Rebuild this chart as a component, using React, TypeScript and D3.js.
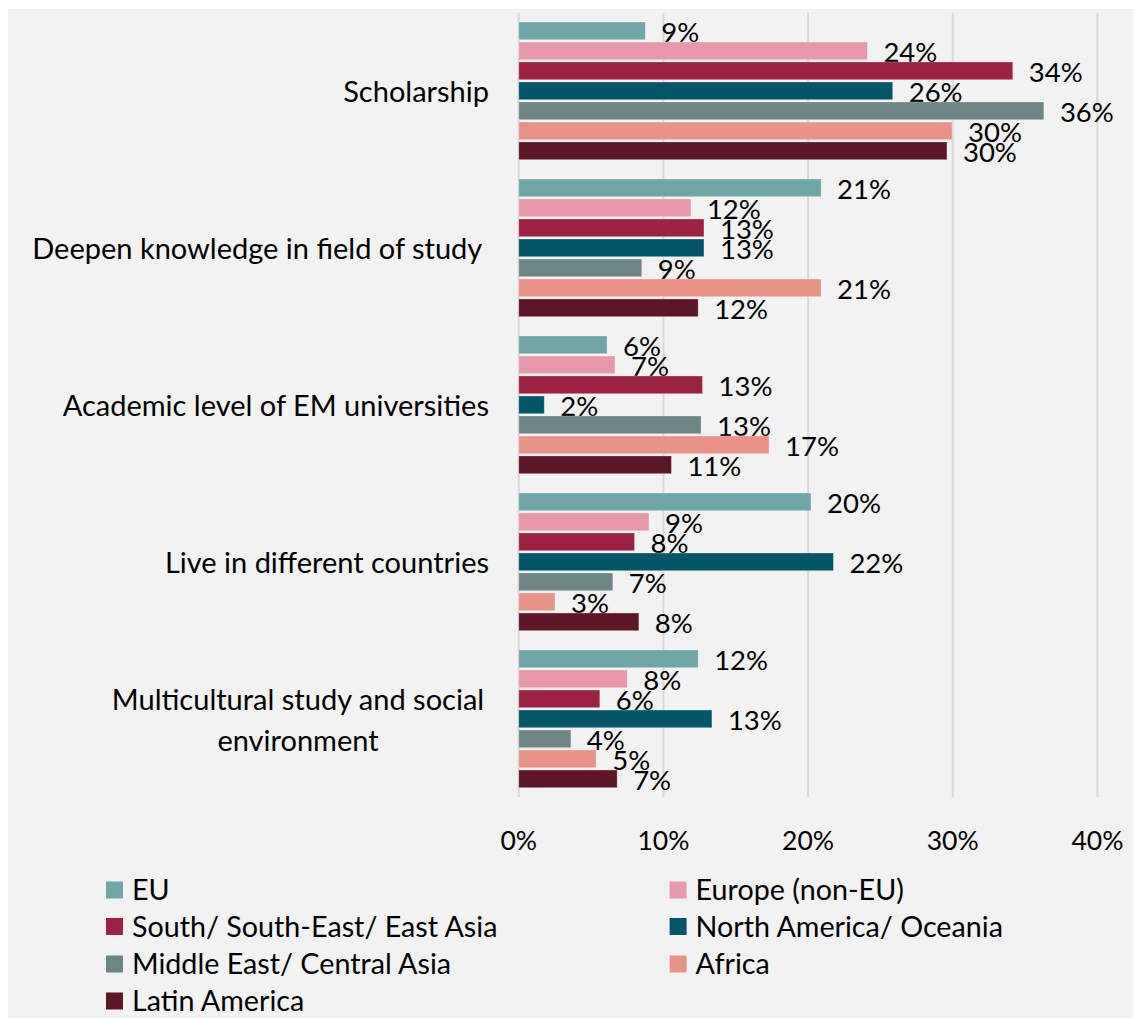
import React, { useEffect } from "react";
import * as d3 from "d3";

const categories = [
  "Scholarship",
  "Deepen knowledge in field of study ",
  "Academic level of EM universities",
  "Live in different countries",
  "Multicultural study and social environment",
];
const categoryLines = [
  ["Scholarship"],
  ["Deepen knowledge in field of study "],
  ["Academic level of EM universities"],
  ["Live in different countries"],
  ["Multicultural study and social", "environment"],
];

const series = [
  "EU",
  "Europe (non-EU)",
  "South/ South-East/ East Asia",
  "North America/ Oceania",
  "Middle East/ Central Asia",
  "Africa",
  "Latin America",
];
const colors = ["#6fa6a8", "#e898ab", "#9c2143", "#035669", "#6d8584", "#e99388", "#5f1628"];

// values per series, one per category (fractions)
const euValues = [0.0875, 0.209, 0.061, 0.202, 0.124];
const europeNonEuValues = [0.241, 0.119, 0.0665, 0.09, 0.075];
const southAsiaValues = [0.3415, 0.128, 0.127, 0.08, 0.056];
const northAmericaValues = [0.2585, 0.128, 0.0176, 0.2175, 0.1335];
const middleEastValues = [0.363, 0.085, 0.126, 0.065, 0.036];
const africaValues = [0.2995, 0.209, 0.173, 0.025, 0.0535];
const latinAmericaValues = [0.296, 0.124, 0.1055, 0.083, 0.068];
const valueLabels = [
  ["9%", "21%", "6%", "20%", "12%"],
  ["24%", "12%", "7%", "9%", "8%"],
  ["34%", "13%", "13%", "8%", "6%"],
  ["26%", "13%", "2%", "22%", "13%"],
  ["36%", "9%", "13%", "7%", "4%"],
  ["30%", "21%", "17%", "3%", "5%"],
  ["30%", "12%", "11%", "8%", "7%"],
];
const allValues = [
  euValues,
  europeNonEuValues,
  southAsiaValues,
  northAmericaValues,
  middleEastValues,
  africaValues,
  latinAmericaValues,
];
const ticks = [0, 0.1, 0.2, 0.3, 0.4];

const FONT = "Lato, 'Open Sans', sans-serif";

export default function App() {
  useEffect(() => {
    document.body.style.margin = "0";
  }, []);

  const W = 1133;
  const H = 1019;
  const x = d3.scaleLinear().domain([0, 0.4]).range([518.8, 1097.4]);
  const y = d3.scaleBand<string>().domain(categories).range([13.5, 798.5]);
  const inner = d3.scaleBand<string>().domain(series).range([8.5, 148.5]);
  const barH = inner.bandwidth() - 2.3;
  const fmt = d3.format(".0%");

  const legendRows = [890, 926.5, 964, 1001];
  const legendCols = [106, 669.6];
  const catSize = 29;

  return (
    <svg width={W} height={H} style={{ display: "block" }} fontFamily={FONT}>
      <rect x={8} y={9} width={W - 8} height={H - 10} fill="#f2f2f2" />
      {ticks.map((t) => (
        <line key={"g" + t} x1={x(t)} x2={x(t)} y1={12.7} y2={797} stroke="#d9d9d9" strokeWidth={2} />
      ))}
      {ticks.map((t) => (
        <text key={"t" + t} x={x(t)} y={850} textAnchor="middle" fontSize={26.5} fill="#000">
          {fmt(t)}
        </text>
      ))}
      {categories.map((c, ci) => {
        const lines = categoryLines[ci];
        const cy = (y(c) as number) + y.bandwidth() / 2;
        const lh = 41;
        const startY = cy - ((lines.length - 1) * lh) / 2 + 10;
        if (lines.length === 1) {
          return (
            <text key={c} x={489} y={startY} textAnchor="end" fontSize={catSize} fill="#000" style={{ whiteSpace: "pre" }}>
              {lines[0]}
            </text>
          );
        }
        return (
          <text key={c} x={298} textAnchor="middle" fontSize={catSize} fill="#000">
            {lines.map((l, li) => (
              <tspan key={li} x={298} y={startY + li * lh}>
                {l}
              </tspan>
            ))}
          </text>
        );
      })}
      {categories.map((c, ci) => (
        <g key={"bars" + c} transform={`translate(0,${y(c)})`}>
          {series.map((s, si) => {
            const v = allValues[si][ci];
            const by = inner(s) as number;
            return (
              <g key={s}>
                <rect x={x(0)} y={by} width={x(v) - x(0)} height={barH} fill={colors[si]} stroke="#ffffff" strokeOpacity={0.35} strokeWidth={0.8} />
                <text x={x(v) + 16} y={by + barH / 2 + 11.5} fontSize={27.5} fill="#000">
                  {valueLabels[si][ci]}
                </text>
              </g>
            );
          })}
        </g>
      ))}
      {series.map((s, si) => {
        const cx = legendCols[si % 2];
        const cy = legendRows[Math.floor(si / 2)];
        return (
          <g key={"lg" + s}>
            <rect x={cx} y={cy - 8.5} width={17} height={17} fill={colors[si]} />
            <text x={cx + 26} y={cy + 10} fontSize={28.7} fill="#000">
              {s}
            </text>
          </g>
        );
      })}
    </svg>
  );
}
